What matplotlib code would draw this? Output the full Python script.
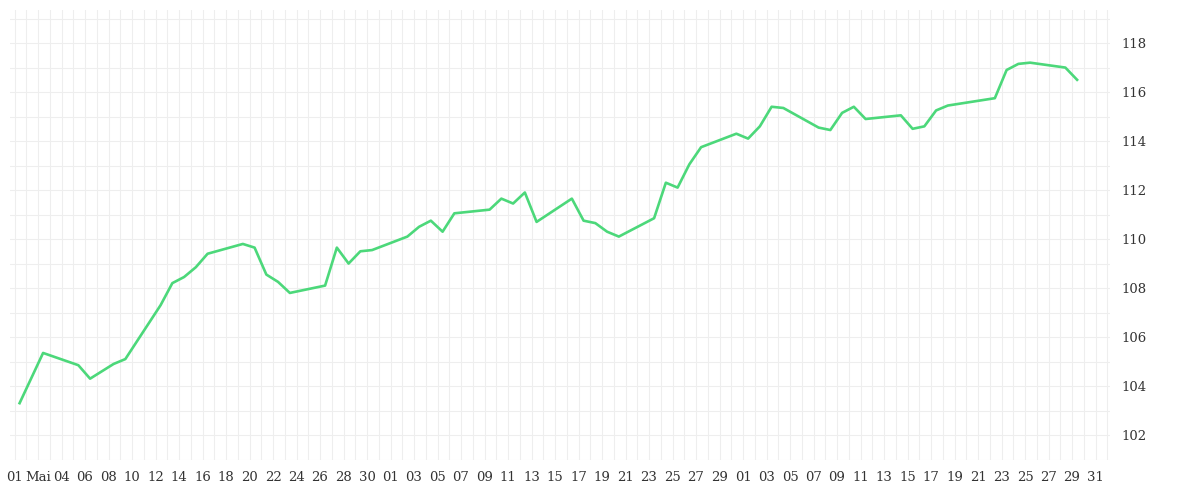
import matplotlib
matplotlib.use("Agg")
import matplotlib.pyplot as plt
import numpy as np

days = [0,2,5,6,7,8,9,12,13,14,15,16,19,20,21,22,23,26,27,28,29,30,33,34,35,36,37,
        40,41,42,43,44,47,48,49,50,51,54,55,56,57,58,61,62,63,64,65,68,69,70,71,72,
        75,76,77,78,79,83,84,85,86,89,90]
values = [103.3,105.35,104.85,104.3,104.6,104.9,105.1,107.3,108.2,108.45,108.85,109.4,
          109.8,109.65,108.55,108.25,107.8,108.1,109.65,109.0,109.5,109.55,110.1,110.5,
          110.75,110.3,111.05,111.2,111.65,111.45,111.9,110.7,111.65,110.75,110.65,110.3,
          110.1,110.85,112.3,112.1,113.05,113.75,114.3,114.1,114.6,115.4,115.35,114.55,
          114.45,115.15,115.4,114.9,115.05,114.5,114.6,115.25,115.45,115.75,116.9,117.15,
          117.2,117.0,116.5]
tick_labels = ["01","Mai"] + ["%02d" % d for d in range(4, 31, 2)] + \
              ["%02d" % d for d in range(1, 30, 2)] + ["%02d" % d for d in range(1, 32, 2)]
y_ticks = [102,104,106,108,110,112,114,116,118]

fig = plt.figure(figsize=(12,5), dpi=100)
ax = fig.add_axes([0.008, 0.08, 0.917, 0.9])
ax.plot(days, values, color="#4cd87a", lw=1.9)
ax.set_xlim(-0.85, 92.8)
ax.set_ylim(100.98, 119.35)
tick_pos = [-0.43 + 2*i for i in range(len(tick_labels))]
ax.set_xticks(tick_pos)
ax.set_xticklabels(tick_labels, family="DejaVu Serif", fontsize=9.5, color="#333333")
ax.set_xticks(np.arange(-0.43, 93, 1), minor=True)
ax.set_yticks(y_ticks)
ax.set_yticks(np.arange(101, 120, 1), minor=True)
ax.yaxis.tick_right()
for lab in ax.get_yticklabels():
    lab.set_family("DejaVu Serif"); lab.set_fontsize(9.5); lab.set_color("#333333")
ax.tick_params(which="both", length=0, pad=8)
ax.grid(True, which="both", color="#eeeeee", lw=0.8)
for s in ax.spines.values():
    s.set_visible(False)
fig.savefig("out.png")
